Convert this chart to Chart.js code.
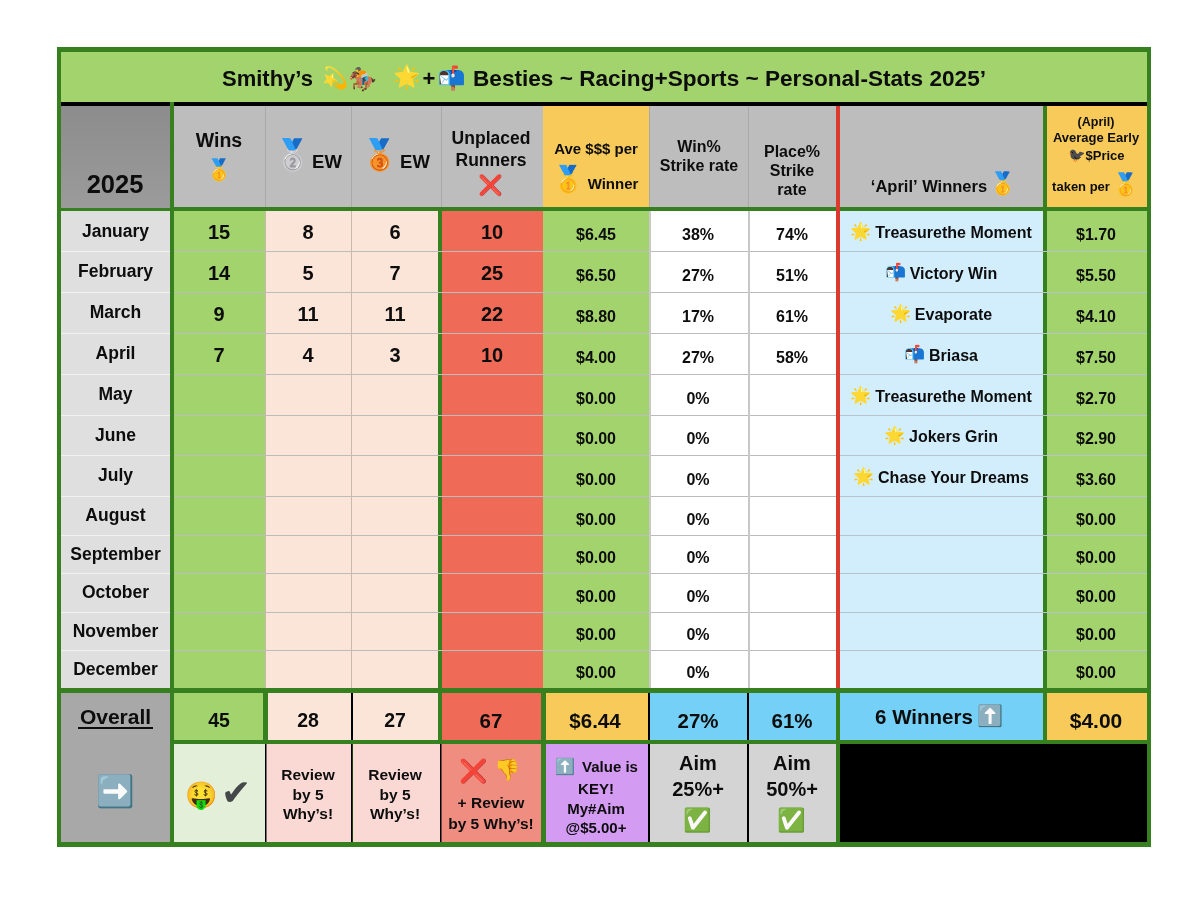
<!DOCTYPE html>
<html><head><meta charset="utf-8">
<style>html,body{margin:0;padding:0;background:#fff}canvas{display:block}</style>
<script src="https://cdn.jsdelivr.net/npm/chart.js@4"></script>
</head><body><canvas id="c" width="1200" height="906"></canvas>
<script>
// ---------- table content ----------
const months=["January","February","March","April","May","June","July","August","September","October","November","December"];
const wins=[15,14,9,7];
const secondEW=[8,5,11,4];
const thirdEW=[6,7,11,3];
const unplaced=[10,25,22,10];
const avePerWinner=["$6.45","$6.50","$8.80","$4.00","$0.00","$0.00","$0.00","$0.00","$0.00","$0.00","$0.00","$0.00"];
const winRate=["38%","27%","17%","27%","0%","0%","0%","0%","0%","0%","0%","0%"];
const placeRate=["74%","51%","61%","58%"];
const aprilWinners=["Treasurethe Moment","Victory Win","Evaporate","Briasa","Treasurethe Moment","Jokers Grin","Chase Your Dreams"];
const winnerIcons=["🌟","📬","🌟","📬","🌟","🌟","🌟"];
const earlyPrice=["$1.70","$5.50","$4.10","$7.50","$2.70","$2.90","$3.60","$0.00","$0.00","$0.00","$0.00","$0.00"];
const overall=["45","28","27","67","$6.44","27%","61%","$4.00"];
// ---------- layout ----------
const rowEdges=[211,251,292,333,374,415,455,496,535,573,612,650,688];
const C={g:"#37801f",lime:"#a2d36c",peach:"#fbe4d8",red:"#ef6b58",white:"#ffffff",sky:"#d2eefd",blue:"#74d0f6",amber:"#f7ca5a",grey:"#bdbdbd",rule:"#bcbcbc",lrule:"#c8c8c8"};
const ds=[];
function rect(x0,x1,y0,y1,color){ds.push({data:[{x:(x0+x1)/2,y:[y0,y1]}],backgroundColor:color,barThickness:x1-x0,grouped:false,inflateAmount:0,borderWidth:0});}
function column(x0,x1,color){ds.push({data:months.map((m,i)=>({x:(x0+x1)/2,y:[rowEdges[i],rowEdges[i+1]]})),backgroundColor:color,barThickness:x1-x0,grouped:false,inflateAmount:0,borderWidth:0});}
rect(57,1151,47,847,C.g);
rect(61,1147,52,102,C.lime);
rect(61,1147,102,106,"#000");
rect(61,170,106,208,ctx=>{const g=ctx.chart.ctx.createLinearGradient(0,106,0,208);g.addColorStop(0,"#8c8c8c");g.addColorStop(1,"#9b9b9b");return g;});
rect(174,1147,106,207,C.grey);
column(61,170,"#dfdfdf");
column(174,265,C.lime);column(265,438,C.peach);column(442,543,C.red);column(543,649,C.lime);
column(649,836,C.white);column(840,1043,C.sky);column(1047,1147,C.lime);
rect(174,1147,207,211,C.g);
rect(543,649,106,207,C.amber);rect(1047,1147,106,207,C.amber);
rect(836,840,106,688,"#db3a2e");
rect(170,174,102,842,C.g);rect(438,442,211,693,C.g);rect(1043,1047,106,842,C.g);
[265,351,441].forEach(x=>rect(x,x+1,106,207,"#a9a9a9"));
[649,748].forEach(x=>rect(x,x+1,106,207,"#a9a9a9"));
rowEdges.slice(1,-1).forEach(y=>{rect(61,170,y,y+1,"#f1f1f1");rect(174,836,y,y+1,C.rule);rect(840,1147,y,y+1,"#b7c4cc");});
[265,351].forEach(x=>rect(x,x+1,211,688,"#c9b8ae"));
[649,748].forEach(x=>rect(x,x+2,211,688,C.lrule));
rect(61,1147,688,693,C.g);
rect(61,170,693,842,"#a8a8a8");
// overall row
rect(174,263,693,740,C.lime);rect(268,351,693,740,C.peach);rect(353,438,693,740,C.peach);
rect(442,541,693,740,C.red);rect(546,648,693,740,C.amber);rect(650,747,693,740,C.blue);rect(749,836,693,740,C.blue);
rect(840,1043,693,740,C.blue);rect(1047,1147,693,740,C.amber);
rect(351,353,693,740,"#000");rect(648,650,693,740,"#000");rect(747,749,693,740,"#000");
rect(174,1147,740,744,C.g);
// bottom row
rect(174,265,744,842,"#e3efd9");rect(266,351,744,842,"#fad9d5");rect(353,440,744,842,"#fad9d5");rect(441,541,744,842,"#ef8d80");
rect(546,648,744,842,"#d49bf2");rect(650,747,744,842,"#d4d4d4");rect(749,836,744,842,"#d4d4d4");
rect(840,1147,744,842,"#000");
[265,351,440].forEach(x=>rect(x,x+1.5,744,842,"#000"));rect(648,650,744,842,"#000");rect(747,749,744,842,"#000");
rect(836,840,693,842,C.g);rect(541,546,693,842,C.g);rect(263,268,693,740,C.g);
ds.reverse();

// ---------- text ----------
const FONT="'Liberation Sans','Helvetica Neue',Arial,sans-serif";
const tablePlugin={id:"tableText",afterDatasetsDraw(chart){
  const c=chart.ctx,X=chart.scales.x,Y=chart.scales.y;
  const T=(s,x,y,size,o={})=>{c.fillStyle=o.color||"#0d0d0d";c.font="bold "+size+"px "+FONT;c.textAlign=o.align||"center";c.textBaseline="middle";c.fillText(s,X.getPixelForValue(x),Y.getPixelForValue(y+1.5));};
  const E=(s,x,y,size)=>{c.fillStyle="#000";c.font=size+"px 'Noto Color Emoji',sans-serif";c.textAlign="center";c.textBaseline="middle";c.fillText(s,X.getPixelForValue(x),Y.getPixelForValue(y));};
  const mid=i=>(rowEdges[i]+rowEdges[i+1])/2;
  c.save();
  // title
  T("Smithy’s",222,78.5,22,{align:"left"});E("💫",335,79,21);E("🏇",363,80,23);E("🌟",407,78,22);T("+",429,78.5,22);E("📬",452,79,23);
  T("Besties ~ Racing+Sports ~ Personal-Stats 2025’",473,78.5,22.6,{align:"left"});
  // header
  T("2025",115,184.5,25.5);
  T("Wins",219,140,19.5);E("🥇",219,171,21);
  E("🥈",293,156,30);T("EW",327,161,18.5);
  E("🥉",380,156,30);T("EW",415,161,18.5);
  T("Unplaced",491,138,17.5);T("Runners",491,160,17.5);E("❌",491,186,20);
  T("Ave $$$ per",596,148,15);E("🥇",569,180,26);T("Winner",613,183,15);
  T("Win%",699,146,16);T("Strike rate",699,165,16);
  T("Place%",792,151,16);T("Strike",792,170,16);T("rate",792,189,16);
  T("‘April’ Winners",929,186,16.5);E("🥇",1003,185,22);
  T("(April)",1096,121,12.5);T("Average Early",1096,137,13);E("🐦‍⬛",1077,156,14);T("$Price",1105,155,13);
  T("taken per",1081,186,13);E("🥇",1126,186,22);
  // body
  months.forEach((m,i)=>T(m,115.5,mid(i)-.5,17.5));
  const cols=[[wins,219,1,20],[secondEW,308,1,20],[thirdEW,395,1,20],[unplaced,492,1,20],[avePerWinner,596,3.5,16],[winRate,698,3.5,16],[placeRate,792,3.5,16],[earlyPrice,1096,3.5,16]];
  cols.forEach(([arr,x,off,size])=>arr.forEach((v,i)=>T(String(v),x,mid(i)+off,size)));
  aprilWinners.forEach((n,i)=>{c.font="bold 16px "+FONT;const w=c.measureText(n).width;const y=mid(i)+1.5;T(n,953.5,y,16);
    E(winnerIcons[i],953.5-w/2-14,y,17);});
  // overall
  T("Overall",115.5,716.5,21);c.fillStyle="#0d0d0d";c.fillRect(78,727,75,2);
  [[219,19.5],[308,19.5],[395,19.5],[491,20.5],[595,20.5],[698,20.5],[792,20.5],[1096,21]].forEach(([x,s],i)=>T(overall[i],x,720.5,s));
  T("6 Winners",924,717,20.5);E("⬆️",990,717,21);
  // notes
  E("➡️",116,793,31);E("🤑",202,796,26);
  c.fillStyle="#45484a";c.font="36px 'DejaVu Sans'";c.textAlign="center";c.textBaseline="middle";c.fillText("✔",X.getPixelForValue(236),Y.getPixelForValue(796));
  [308,395].forEach(x=>{T("Review",x,774,15.5);T("by 5",x,794,15.5);T("Why’s!",x,813,15.5);});
  E("❌",474,772,23);E("👎",507,771,21);T("+ Review",491,802,15.5);T("by 5 Why’s!",491,823,15.5);
  E("⬆️",565,767,16);T("Value is",610,766,15);T("KEY!",596,788,15);T("My#Aim",596,808,15);T("@$5.00+",596,827,15);
  T("Aim",698,763,20);T("25%+",698,789,20);E("✅",698,821,23);
  T("Aim",792,763,20);T("50%+",792,789,20);E("✅",792,821,23);
  c.restore();
}};
new Chart(document.getElementById("c"),{type:"bar",data:{datasets:ds},plugins:[tablePlugin],options:{
  responsive:false,animation:false,devicePixelRatio:1,layout:{padding:0},
  plugins:{legend:{display:false},tooltip:{enabled:false}},
  scales:{x:{type:"linear",offset:false,min:0,max:1200,display:false},y:{type:"linear",min:0,max:906,reverse:true,display:false}}
}});
</script></body></html>
